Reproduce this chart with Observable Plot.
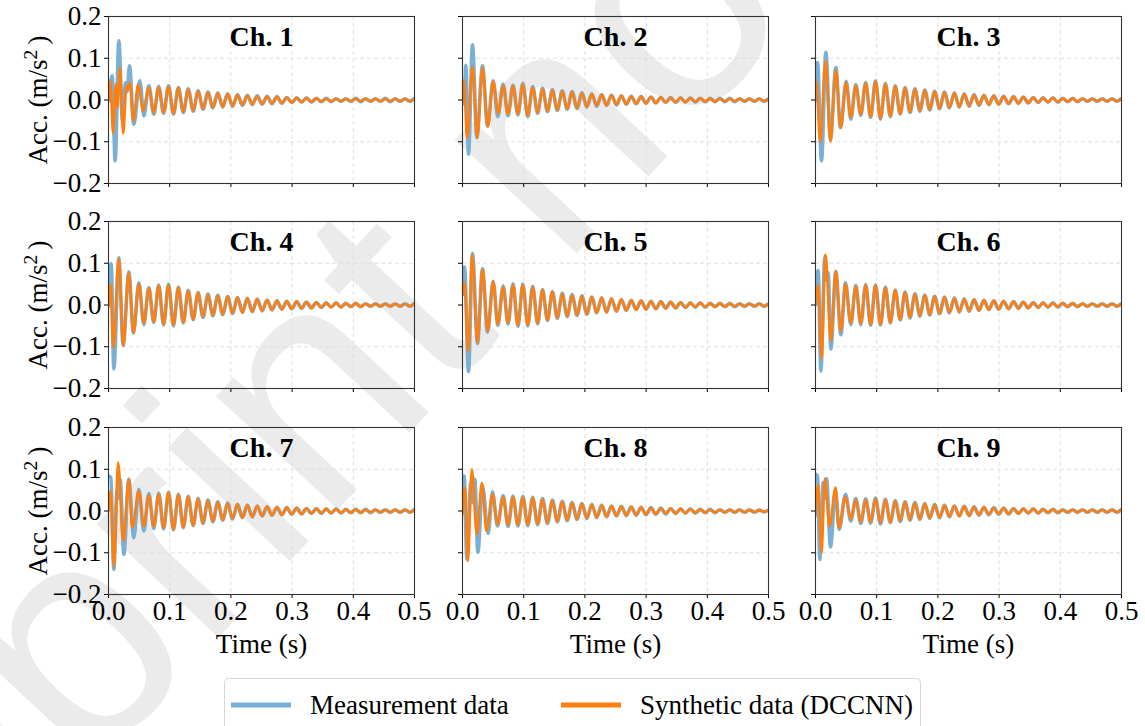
<!DOCTYPE html>
<html>
<head>
<meta charset="utf-8">
<script src="https://cdn.jsdelivr.net/npm/d3@7"></script>
<script src="https://cdn.jsdelivr.net/npm/@observablehq/plot@0.6"></script>
<style>
  html, body { margin: 0; padding: 0; background: #fff; }
  #fig { position: relative; width: 1145px; height: 726px; overflow: hidden; background: #fff; font-family: "Liberation Serif", serif; }
  .panel { position: absolute; z-index: 1; }
  #wm { position: absolute; left: 0; top: 0; z-index: 0; }
  #legend { position: absolute; z-index: 2; left: 0; top: 0; }
</style>
</head>
<body>
<div id="fig"></div>
<script>
// ---------------- data ----------------
const channels = ["Ch. 1", "Ch. 2", "Ch. 3", "Ch. 4", "Ch. 5", "Ch. 6", "Ch. 7", "Ch. 8", "Ch. 9"];
const xTicks = [0, 0.1, 0.2, 0.3, 0.4, 0.5];
const yTicks = [-0.2, -0.1, 0, 0.1, 0.2];
const seriesNames = ["Measurement data", "Synthetic data (DCCNN)"];
const periodMs = 16.1; // ringing period
const tailStartMs = [65.9, 66.4, 65.9, 65.9, 66.4, 65.9, 65.9, 66.4, 65.9];

// early extrema [time (ms), acceleration (m/s^2)]
const ch1MeasEarly = [[0,-0.002],[6.0,0.058],[10.9,-0.146],[16.9,0.142],[22.9,-0.05],[27.8,0.042],[30.5,0.02],[34.3,0.082],[41.4,-0.058],[51.2,0.046],[57.7,-0.038]];
const ch1SynthEarly = [[0,0.0],[2.7,0.045],[7.6,-0.08],[12.0,0.038],[14.7,-0.018],[18.5,0.077],[24.0,-0.08],[29.4,0.034],[31.5,0.025],[34.9,0.042],[40.3,-0.05],[48.5,0.037],[56.6,-0.026]];
const ch2MeasEarly = [[0,-0.01],[2.2,0.046],[3.5,0.03],[5.4,0.083],[9.8,-0.13],[16.3,0.132],[23.4,-0.09],[32.7,0.082],[40.8,-0.062],[50.1,0.046],[57.7,-0.04]];
const ch2SynthEarly = [[0,0.0],[2.2,0.046],[7.6,-0.092],[16.3,0.08],[24.0,-0.09],[32.7,0.078],[41.4,-0.064],[50.1,0.045],[58.3,-0.032]];
const ch3MeasEarly = [[0,-0.002],[3.3,0.09],[9.8,-0.146],[16.9,0.114],[24.5,-0.094],[33.2,0.078],[40.8,-0.066],[50.1,0.045],[57.7,-0.046]];
const ch3SynthEarly = [[0,0.042],[1.2,0.044],[7.6,-0.1],[16.3,0.094],[24.5,-0.1],[33.2,0.072],[41.4,-0.067],[50.1,0.042],[57.7,-0.042]];
const ch4MeasEarly = [[0,-0.003],[4.4,0.099],[8.7,-0.153],[16.9,0.113],[24.0,-0.097],[33.2,0.079],[40.8,-0.067],[49.6,0.053],[57.7,-0.047]];
const ch4SynthEarly = [[0,-0.003],[3.3,0.049],[7.6,-0.102],[16.9,0.111],[24.0,-0.097],[33.2,0.077],[40.8,-0.067],[49.6,0.05],[57.7,-0.043]];
const ch5MeasEarly = [[0,0.025],[3.3,0.091],[9.8,-0.16],[16.3,0.123],[24.5,-0.092],[32.7,0.087],[40.8,-0.065],[50.1,0.057],[57.7,-0.049]];
const ch5SynthEarly = [[0,0.025],[3.3,0.053],[9.3,-0.111],[15.8,0.121],[24.5,-0.091],[32.7,0.086],[41.4,-0.063],[50.1,0.057],[57.7,-0.046]];
const ch6MeasEarly = [[0,0.0],[4.4,0.083],[8.7,-0.158],[15.3,0.115],[18.5,0.06],[20.7,0.077],[25.1,-0.105],[33.2,0.08],[41.4,-0.071],[49.0,0.053],[57.7,-0.047]];
const ch6SynthEarly = [[0,0.0],[4.4,0.047],[9.8,-0.128],[16.3,0.121],[25.1,-0.086],[33.2,0.081],[41.4,-0.063],[49.0,0.05],[57.7,-0.043]];
const ch7MeasEarly = [[0,0.084],[3.8,0.08],[8.7,-0.14],[14.0,0.05],[16.0,0.03],[19.1,0.076],[25.1,-0.104],[33.2,0.076],[41.4,-0.064],[49.6,0.052],[57.7,-0.048]];
const ch7SynthEarly = [[0,0.0],[3.3,0.048],[8.7,-0.133],[15.8,0.116],[24.0,-0.072],[33.2,0.076],[38.7,-0.04],[49.6,0.048],[57.7,-0.036]];
const ch8MeasEarly = [[0,0.08],[2.7,0.084],[7.1,-0.115],[13.6,0.068],[16.9,0.02],[20.2,0.076],[25.1,-0.099],[32.7,0.06],[41.9,-0.054],[49.0,0.046],[57.2,-0.036]];
const ch8SynthEarly = [[0,-0.008],[4.4,0.056],[8.7,-0.12],[15.3,0.1],[23.4,-0.056],[31.6,0.067],[39.2,-0.048],[49.0,0.04],[57.2,-0.032]];
const ch9MeasEarly = [[0,0.088],[3.3,0.084],[7.1,-0.116],[12.5,0.068],[15.3,0.03],[18.0,0.078],[24.5,-0.086],[32.7,0.048],[38.7,-0.044],[49.0,0.04],[57.7,-0.024]];
const ch9SynthEarly = [[0,-0.012],[4.4,0.064],[9.8,-0.1],[15.3,0.078],[22.9,-0.036],[32.7,0.056],[38.1,-0.04],[49.0,0.034],[57.7,-0.02]];

// ringing tail: peak amplitude of each cycle (m/s^2)
const ch1MeasTail = [0.034,0.032,0.034,0.030,0.027,0.022,0.019,0.017,0.015,0.013,0.011,0.010,0.009,0.008,0.006,0.005,0.005,0.004,0.004,0.003,0.003,0.004,0.003,0.003,0.004,0.003,0.003,0.003];
const ch1SynthTail = [0.030,0.030,0.032,0.029,0.026,0.021,0.018,0.016,0.014,0.012,0.010,0.009,0.008,0.007,0.006,0.005,0.004,0.004,0.003,0.003,0.003,0.003,0.003,0.003,0.003,0.003,0.003,0.003];
const ch2MeasTail = [0.038,0.036,0.040,0.032,0.028,0.025,0.022,0.020,0.017,0.015,0.013,0.012,0.010,0.009,0.008,0.007,0.006,0.006,0.005,0.005,0.004,0.004,0.004,0.004,0.003,0.003,0.003,0.003];
const ch2SynthTail = [0.034,0.033,0.037,0.030,0.027,0.024,0.021,0.019,0.016,0.014,0.013,0.011,0.010,0.009,0.008,0.007,0.006,0.005,0.005,0.004,0.004,0.004,0.003,0.003,0.003,0.003,0.003,0.003];
const ch3MeasTail = [0.037,0.042,0.046,0.040,0.034,0.030,0.027,0.024,0.021,0.019,0.017,0.015,0.013,0.011,0.010,0.009,0.008,0.007,0.006,0.005,0.005,0.004,0.004,0.003,0.003,0.003,0.003,0.003];
const ch3SynthTail = [0.034,0.040,0.044,0.038,0.033,0.029,0.026,0.023,0.020,0.018,0.016,0.014,0.012,0.011,0.010,0.009,0.008,0.007,0.006,0.005,0.005,0.004,0.004,0.003,0.003,0.003,0.003,0.003];
const ch4MeasTail = [0.042,0.048,0.050,0.043,0.035,0.030,0.026,0.023,0.020,0.018,0.016,0.014,0.012,0.010,0.009,0.008,0.007,0.006,0.005,0.005,0.004,0.004,0.003,0.003,0.003,0.003,0.003,0.003];
const ch4SynthTail = [0.040,0.046,0.048,0.042,0.034,0.029,0.025,0.022,0.020,0.018,0.016,0.014,0.012,0.010,0.009,0.008,0.007,0.006,0.005,0.005,0.004,0.004,0.003,0.003,0.003,0.003,0.003,0.003];
const ch5MeasTail = [0.046,0.051,0.050,0.045,0.037,0.032,0.028,0.025,0.022,0.019,0.017,0.015,0.013,0.011,0.010,0.009,0.008,0.007,0.006,0.005,0.005,0.004,0.004,0.004,0.003,0.003,0.003,0.003];
const ch5SynthTail = [0.043,0.048,0.048,0.043,0.036,0.031,0.027,0.024,0.021,0.019,0.017,0.015,0.013,0.011,0.010,0.009,0.008,0.007,0.006,0.005,0.005,0.004,0.004,0.003,0.003,0.003,0.003,0.003];
const ch6MeasTail = [0.047,0.049,0.048,0.043,0.036,0.031,0.027,0.024,0.021,0.019,0.017,0.015,0.013,0.011,0.010,0.009,0.008,0.007,0.006,0.005,0.005,0.004,0.004,0.003,0.003,0.003,0.003,0.003];
const ch6SynthTail = [0.044,0.047,0.047,0.042,0.035,0.030,0.026,0.023,0.021,0.018,0.016,0.014,0.013,0.011,0.010,0.009,0.008,0.007,0.006,0.005,0.004,0.004,0.004,0.003,0.003,0.003,0.003,0.003];
const ch7MeasTail = [0.042,0.043,0.045,0.040,0.035,0.030,0.026,0.022,0.019,0.016,0.014,0.012,0.010,0.009,0.008,0.007,0.006,0.006,0.005,0.005,0.004,0.004,0.004,0.003,0.003,0.003,0.003,0.003];
const ch7SynthTail = [0.037,0.040,0.044,0.039,0.034,0.029,0.025,0.021,0.018,0.016,0.014,0.012,0.010,0.009,0.008,0.007,0.006,0.005,0.005,0.004,0.004,0.004,0.003,0.003,0.003,0.003,0.003,0.003];
const ch8MeasTail = [0.037,0.036,0.035,0.033,0.030,0.026,0.023,0.020,0.018,0.016,0.014,0.012,0.011,0.010,0.009,0.008,0.007,0.006,0.005,0.005,0.004,0.004,0.003,0.003,0.003,0.003,0.002,0.002];
const ch8SynthTail = [0.033,0.033,0.032,0.031,0.028,0.025,0.022,0.019,0.017,0.015,0.013,0.012,0.010,0.009,0.008,0.007,0.006,0.006,0.005,0.004,0.004,0.003,0.003,0.003,0.003,0.002,0.002,0.002];
const ch9MeasTail = [0.030,0.029,0.031,0.028,0.025,0.022,0.020,0.018,0.016,0.014,0.012,0.011,0.010,0.009,0.008,0.007,0.006,0.005,0.005,0.004,0.004,0.003,0.003,0.003,0.003,0.003,0.003,0.003];
const ch9SynthTail = [0.027,0.027,0.029,0.027,0.024,0.021,0.019,0.017,0.015,0.013,0.012,0.011,0.009,0.008,0.007,0.007,0.006,0.005,0.005,0.004,0.004,0.003,0.003,0.003,0.003,0.003,0.003,0.003];

const measEarly = [ch1MeasEarly, ch2MeasEarly, ch3MeasEarly, ch4MeasEarly, ch5MeasEarly, ch6MeasEarly, ch7MeasEarly, ch8MeasEarly, ch9MeasEarly];
const synthEarly = [ch1SynthEarly, ch2SynthEarly, ch3SynthEarly, ch4SynthEarly, ch5SynthEarly, ch6SynthEarly, ch7SynthEarly, ch8SynthEarly, ch9SynthEarly];
const measTail = [ch1MeasTail, ch2MeasTail, ch3MeasTail, ch4MeasTail, ch5MeasTail, ch6MeasTail, ch7MeasTail, ch8MeasTail, ch9MeasTail];
const synthTail = [ch1SynthTail, ch2SynthTail, ch3SynthTail, ch4SynthTail, ch5SynthTail, ch6SynthTail, ch7SynthTail, ch8SynthTail, ch9SynthTail];

// ---------------- build ----------------
function buildSeries(early, tail, t0) {
  const pts = early.map(([ms, v]) => ({t: ms / 1000, v}));
  tail.forEach((a, k) => {
    pts.push({t: (t0 + k * periodMs) / 1000, v: a});
    pts.push({t: (t0 + (k + 0.5) * periodMs) / 1000, v: -a});
  });
  return pts;
}

const BLUE = "#7aafd6";
const ORANGE = "#ff7f0e";
const FONT = "Liberation Serif";
const colLefts = [108, 462, 815];
const rowTops = [16, 221, 427];
const PW = 306, PH = 167;
const fmt = d3.format(".1f");
const fig = document.getElementById("fig");

// watermark
const wm = d3.select(fig).append("svg").attr("id", "wm").attr("width", 1145).attr("height", 726);
wm.append("text")
  .attr("transform", "translate(-250,1140) rotate(-47)")
  .attr("font-family", "Liberation Sans")
  .attr("font-size", 315)
  .attr("fill", "#ebebeb")
  .text("Preprint not peer reviewed");

channels.forEach((name, i) => {
  const col = i % 3, row = Math.floor(i / 3);
  const ml = col === 0 ? 108 : 14;
  const mr = 14, mt = 8, mb = row === 2 ? 72 : 12;
  const meas = buildSeries(measEarly[i], measTail[i], tailStartMs[i]);
  const synth = buildSeries(synthEarly[i], synthTail[i], tailStartMs[i]);
  const marks = [
    Plot.ruleX(xTicks.slice(1, -1), {stroke: "#dcdcdc", strokeWidth: 0.9, strokeDasharray: "4,3"}),
    Plot.ruleY(yTicks.slice(1, -1), {stroke: "#dcdcdc", strokeWidth: 0.9, strokeDasharray: "4,3"}),
    Plot.line(meas, {x: "t", y: "v", stroke: BLUE, strokeWidth: 3.6, curve: "monotone-x", clip: true}),
    Plot.line(synth, {x: "t", y: "v", stroke: ORANGE, strokeWidth: 2.6, curve: "monotone-x", clip: true}),
    Plot.frame({stroke: "#333", strokeWidth: 1.1}),
    Plot.text([name], {text: d => d, frameAnchor: "top", dy: 29, lineAnchor: "bottom", textAnchor: "middle", fontWeight: "bold", fontSize: 28, fill: "#000"})
  ];
  if (row === 2) marks.push(Plot.text(["Time (s)"], {text: d => d, frameAnchor: "bottom", dy: 58, lineAnchor: "bottom", textAnchor: "middle", fontSize: 27, fill: "#000"}));
  if (col === 0) marks.push(Plot.text(["Acc. (m/s2)"], {text: d => d, frameAnchor: "left", dx: -70, rotate: -90, lineAnchor: "middle", textAnchor: "middle", fontSize: 27, fill: "#000"}));
  const svg = Plot.plot({
    width: PW + ml + mr, height: PH + mt + mb,
    marginLeft: ml, marginRight: mr, marginTop: mt, marginBottom: mb,
    style: {background: "transparent", fontFamily: FONT, fontSize: "27px", color: "#000", overflow: "visible"},
    x: {domain: [0, 0.5], ticks: xTicks, tickFormat: row === 2 ? fmt : () => "", tickSize: 4, tickPadding: 2, label: null},
    y: {domain: [-0.2, 0.2], ticks: yTicks, tickFormat: col === 0 ? fmt : () => "", tickSize: 4, tickPadding: 3, label: null},
    marks
  });
  svg.classList.add("panel");
  svg.style.position = "absolute";
  svg.style.left = (colLefts[col] - ml) + "px";
  svg.style.top = (rowTops[row] - mt) + "px";
  fig.appendChild(svg);
  // superscript in the y label
  d3.select(svg).selectAll("text").each(function() {
    if (this.textContent === "Acc. (m/s2)") {
      const t = d3.select(this);
      t.text("");
      t.append("tspan").text("Acc. (m/s");
      t.append("tspan").attr("dy", "-0.5em").attr("font-size", "0.72em").text("2");
      t.append("tspan").attr("dy", "0.36em").text("\u2009)");
    }
  });
});

// legend
const lg = d3.select(fig).append("svg").attr("id", "legend").attr("width", 1145).attr("height", 726);
lg.append("rect").attr("x", 224.5).attr("y", 678.5).attr("width", 696).attr("height", 70).attr("rx", 4)
  .attr("fill", "#fff").attr("fill-opacity", 0.8).attr("stroke", "#d6d6d6");
const legendItems = [
  {name: seriesNames[0], color: BLUE, x: 231},
  {name: seriesNames[1], color: ORANGE, x: 561}
];
legendItems.forEach(d => {
  lg.append("line").attr("x1", d.x).attr("x2", d.x + 60).attr("y1", 705).attr("y2", 705)
    .attr("stroke", d.color).attr("stroke-width", 5);
  lg.append("text").attr("x", d.x + 79).attr("y", 714).attr("font-family", FONT).attr("font-size", 27)
    .attr("fill", "#000").text(d.name);
});
</script>
</body>
</html>
